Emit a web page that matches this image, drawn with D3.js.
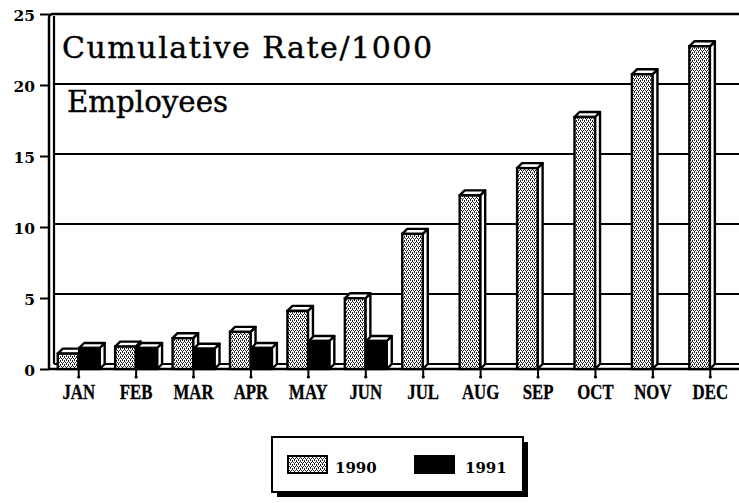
<!DOCTYPE html>
<html>
<head>
<meta charset="utf-8">
<script src="https://cdn.jsdelivr.net/npm/d3@7"></script>
<style>
  html, body { margin: 0; padding: 0; background: #fff; }
  svg { display: block; }
</style>
</head>
<body>
<svg id="chart" width="739" height="503"></svg>
<script>
// ---- data ----
const months = ["JAN","FEB","MAR","APR","MAY","JUN","JUL","AUG","SEP","OCT","NOV","DEC"];
const seriesNames = ["1990","1991"];
const values1990 = [1.1, 1.6, 2.2, 2.65, 4.15, 5.05, 9.65, 12.4, 14.35, 18.0, 21.05, 23.05];
const values1991 = [1.5, 1.5, 1.45, 1.5, 2.0, 2.0, null, null, null, null, null, null];
const yTicks = [0, 5, 10, 15, 20, 25];
const titleLines = ["Cumulative Rate/1000", "Employees"];

// ---- setup ----
const svg = d3.select("#chart");
const W = 739;
const DX = 5, DY = 5;          // 3D depth offset
const axisX = 49;
const floorY = 369;

const x0 = d3.scaleBand().domain(months).range([50, 739]).paddingInner(0.27).paddingOuter(0.135);
const x1 = d3.scaleBand().domain(seriesNames).range([0, x0.bandwidth()]).paddingInner(0.04);
const yBack = d3.scaleLinear().domain([0, 25]).range([floorY - DY, 14]);
const yAxisScale = d3.scaleLinear().domain([0, 25]).range([floorY, 14]);

// pattern
const defs = svg.append("defs");
const pat = defs.append("pattern").attr("id", "stipple").attr("patternUnits", "userSpaceOnUse")
  .attr("width", 4).attr("height", 4);
pat.append("rect").attr("width", 4).attr("height", 4).attr("fill", "#fff");
[[0,0],[2,0],[1,2],[3,2],[0,1],[2,3]].forEach(([a,b]) => {
  pat.append("rect").attr("x", a).attr("y", b).attr("width", 1).attr("height", 1).attr("fill", "#222");
});

// gridlines on back wall
svg.append("g").selectAll("line").data(yTicks.filter(t => t > 0 && t < 25)).join("line")
  .attr("x1", axisX + DX).attr("x2", W)
  .attr("y1", d => yBack(d)).attr("y2", d => yBack(d))
  .attr("stroke", "#000").attr("stroke-width", 2.2);

// frame: outer axis line with top border
svg.append("path")
  .attr("d", `M${axisX},${floorY} V${yBack(25) + 4} Q${axisX},${yBack(25)} ${axisX + 4},${yBack(25)} H${W}`)
  .attr("fill", "none").attr("stroke", "#000").attr("stroke-width", 2.5);
svg.append("line").attr("x1", axisX + DX).attr("x2", axisX + DX)
  .attr("y1", yBack(25) + 2).attr("y2", floorY - DY)
  .attr("stroke", "#000").attr("stroke-width", 2.2);

// floor
svg.append("line").attr("x1", axisX + DX).attr("x2", W).attr("y1", floorY - DY).attr("y2", floorY - DY)
  .attr("stroke", "#000").attr("stroke-width", 2);
svg.append("line").attr("x1", axisX).attr("x2", W).attr("y1", floorY).attr("y2", floorY)
  .attr("stroke", "#000").attr("stroke-width", 2.5);

// y axis
const yAxis = svg.append("g").attr("transform", `translate(${axisX},0)`)
  .call(d3.axisLeft(yAxisScale).tickValues(yTicks).tickSize(9).tickPadding(5));
yAxis.select(".domain").remove();
yAxis.selectAll("line").attr("stroke-width", 2);
yAxis.selectAll("text").attr("font-family", "'DejaVu Serif', serif")
  .attr("font-weight", "bold").attr("font-size", 15.5).attr("fill", "#000").attr("dy", "0.45em");

// x axis
const xAxis = svg.append("g").attr("transform", `translate(0,${floorY})`)
  .call(d3.axisBottom(x0).tickSize(8).tickPadding(8));
xAxis.select(".domain").remove();
xAxis.selectAll("line").attr("stroke-width", 2);
xAxis.selectAll(".tick").append("circle").attr("cy", 8).attr("r", 1.6).attr("fill", "#000");
xAxis.selectAll("text").attr("font-family", "'Liberation Serif', 'Times New Roman', serif")
  .attr("font-weight", "bold").attr("font-size", 20).attr("fill", "#000")
  .attr("stroke", "#000").attr("stroke-width", 0.3)
  .attr("transform", "scale(0.84,1)");

// bars
const barData = [];
months.forEach((m, i) => {
  [["1990", values1990[i]], ["1991", values1991[i]]].forEach(([s, v]) => {
    if (v != null) barData.push({ month: m, series: s, value: v });
  });
});

const bars = svg.append("g").selectAll("g").data(barData).join("g");
bars.each(function(d) {
  const g = d3.select(this);
  const xl = x0(d.month) + x1(d.series);
  const w = x1.bandwidth();
  const yTop = yBack(d.value) + DY;   // front-face top
  const yBot = floorY;
  const fill = d.series === "1990" ? "url(#stipple)" : "#000";
  // side face
  g.append("path")
    .attr("d", `M${xl + w},${yTop} L${xl + w + DX},${yTop - DY} L${xl + w + DX},${yBot - DY} L${xl + w},${yBot} Z`)
    .attr("fill", "#fff").attr("stroke", "#000").attr("stroke-width", 2.4).attr("stroke-linejoin", "round");
  // top face
  g.append("path")
    .attr("d", `M${xl},${yTop} L${xl + DX},${yTop - DY} L${xl + w + DX},${yTop - DY} L${xl + w},${yTop} Z`)
    .attr("fill", "#fff").attr("stroke", "#000").attr("stroke-width", 2.4).attr("stroke-linejoin", "round");
  // front face
  g.append("rect").attr("x", xl).attr("y", yTop).attr("width", w).attr("height", yBot - yTop)
    .attr("fill", fill).attr("stroke", "#000").attr("stroke-width", 2.4);
});

// title text
const tfont = "'DejaVu Serif', 'Liberation Serif', serif";
svg.append("rect").attr("x", 58).attr("y", 28).attr("width", 380).attr("height", 40).attr("fill", "#fff");
svg.append("rect").attr("x", 62).attr("y", 90).attr("width", 175).attr("height", 30).attr("fill", "#fff");
svg.append("text").attr("x", 62).attr("y", 58).text(titleLines[0])
  .attr("font-family", tfont).attr("font-size", 30).attr("fill", "#000")
  .attr("stroke", "#000").attr("stroke-width", 0.4)
  .attr("textLength", 370).attr("lengthAdjust", "spacing");
svg.append("text").attr("x", 67).attr("y", 112).text(titleLines[1])
  .attr("font-family", tfont).attr("font-size", 30).attr("fill", "#000")
  .attr("stroke", "#000").attr("stroke-width", 0.4)
  .attr("textLength", 161).attr("lengthAdjust", "spacingAndGlyphs");

// legend
const lg = svg.append("g");
lg.append("rect").attr("x", 277).attr("y", 442).attr("width", 251).attr("height", 55).attr("fill", "#000");
lg.append("rect").attr("x", 272).attr("y", 437).attr("width", 251).attr("height", 55)
  .attr("fill", "#fff").attr("stroke", "#000").attr("stroke-width", 2);
const legItems = [
  { name: seriesNames[0], sx: 288, tx: 335, fill: "url(#stipple)" },
  { name: seriesNames[1], sx: 415, tx: 465, fill: "#000" }
];
legItems.forEach(it => {
  lg.append("rect").attr("x", it.sx).attr("y", 456).attr("width", 39).attr("height", 17)
    .attr("fill", it.fill).attr("stroke", "#000").attr("stroke-width", 2);
  lg.append("text").attr("x", it.tx).attr("y", 473).text(it.name)
    .attr("font-family", "'DejaVu Serif', serif").attr("font-weight", "bold")
    .attr("font-size", 15).attr("fill", "#000");
});
</script>
</body>
</html>
